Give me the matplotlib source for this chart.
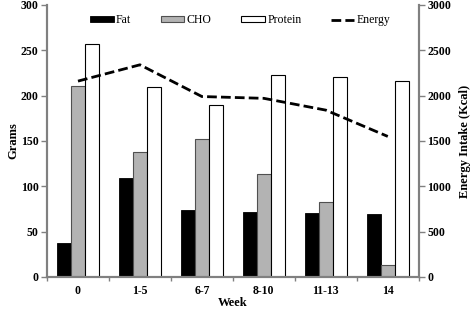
import matplotlib
matplotlib.use("Agg")
import matplotlib.pyplot as plt
import numpy as np

weeks = ["0", "1-5", "6-7", "8-10", "11-13", "14"]
fat = [37, 109, 74, 72, 71, 70]
cho = [211, 138, 152, 114, 83, 13]
protein = [257, 209, 190, 223, 220, 216]
energy = [2160, 2340, 1990, 1970, 1840, 1550]

plt.rcParams['font.family'] = ['Liberation Serif', 'DejaVu Serif']

fig = plt.figure(figsize=(4.7, 3.09), dpi=100)
ax = fig.add_axes([0.1, 0.1036, 0.791, 0.8804])
ax2 = ax.twinx()

x = np.arange(len(weeks))
w = 0.225
b1 = ax.bar(x - w, fat, w, color='black', edgecolor='black', linewidth=0.6, label='Fat')
b2 = ax.bar(x, cho, w, color='#b3b3b3', edgecolor='#505050', linewidth=0.8, label='CHO')
b3 = ax.bar(x + w, protein, w, color='white', edgecolor='black', linewidth=0.8, label='Protein')
ln, = ax2.plot(x, energy, color='black', linestyle=(0, (3.5, 1.5)), linewidth=2, label='Energy')

ax.set_xlim(-0.5, len(weeks) - 0.5)
ax.set_ylim(0, 300)
ax2.set_ylim(0, 3000)
ax.set_yticks(range(0, 301, 50))
ax2.set_yticks(range(0, 3001, 500))
ax.set_xticks(x)
ax.set_xticklabels(weeks)
ax.set_xticks(np.arange(-0.5, len(weeks)), minor=True)
ax.tick_params(axis='x', which='major', length=0, pad=6)
ax.tick_params(axis='x', which='minor', length=3, width=1, color='#808080', direction='out')
ax.tick_params(axis='y', length=4, width=1, color='#808080', direction='out', pad=2)
ax2.tick_params(axis='y', length=4, width=1, color='#808080', direction='out', pad=2)

for a in (ax, ax2):
    for s in ['top']:
        a.spines[s].set_visible(False)
    for s in ['left', 'right', 'bottom']:
        a.spines[s].set_color('#808080')
        a.spines[s].set_linewidth(1.5)
    for lab in a.get_xticklabels() + a.get_yticklabels():
        lab.set_fontweight('bold')
        lab.set_fontsize(8.5)

ax.set_ylabel('Grams', fontweight='bold', fontsize=9, labelpad=1)
ax2.set_ylabel('Energy Intake (Kcal)', fontweight='bold', fontsize=9, labelpad=6)
ax.set_xlabel('Week', fontweight='bold', fontsize=9, labelpad=0)

leg = ax.legend([b1, b2, b3, ln], ['Fat', 'CHO', 'Protein', 'Energy'], ncol=4,
                loc='center', bbox_to_anchor=(0.52, 0.943), frameon=False,
                fontsize=8.5, handlelength=2.0, handleheight=0.45, columnspacing=2.5,
                handletextpad=0.2, borderpad=0)

fig.savefig('out.png', dpi=100)
